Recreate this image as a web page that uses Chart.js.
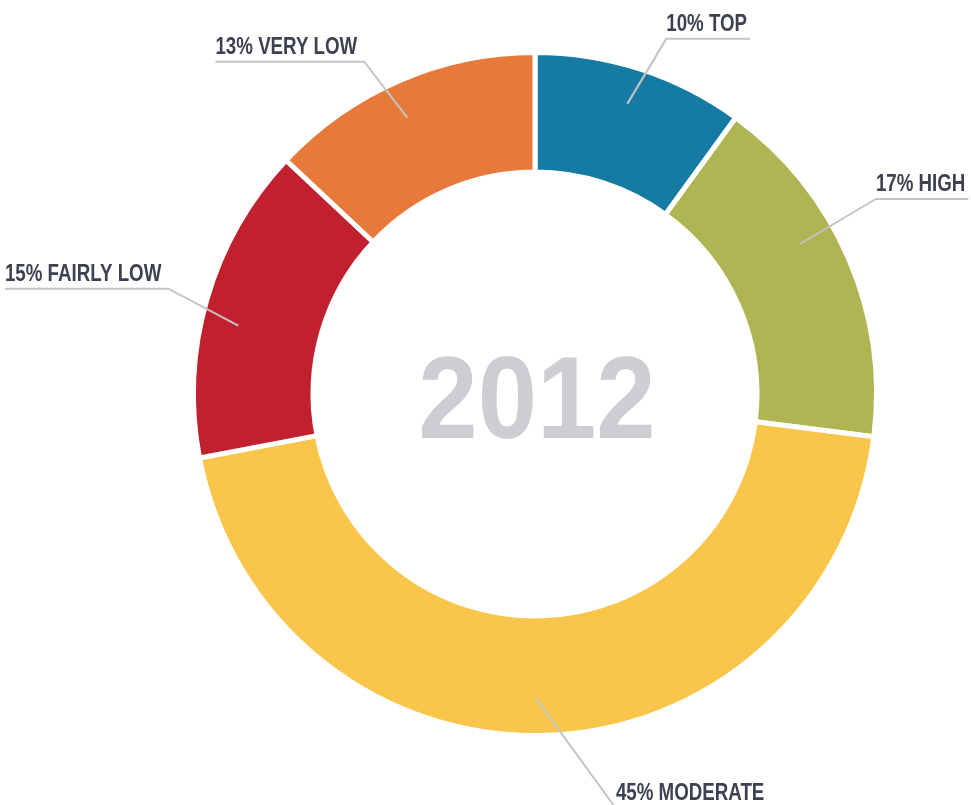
<!DOCTYPE html>
<html>
<head>
<meta charset="utf-8">
<script src="https://cdn.jsdelivr.net/npm/chart.js@4.4.0/dist/chart.umd.min.js"></script>
<style>
  html, body { margin: 0; padding: 0; background: #fff; }
  #wrap { position: relative; width: 971px; height: 805px; }
</style>
</head>
<body>
<div id="wrap"><canvas id="ratingChart"></canvas></div>
<script>
// Rating distribution, 2012
var labels = ["TOP", "HIGH", "MODERATE", "FAIRLY LOW", "VERY LOW"];
var shares = [10, 17, 45, 15, 13];
var colors = ["#167ba2", "#b0b553", "#f9c64b", "#c1212f", "#e7793b"];
var yearLabel = "2012";

// where the leader starts along each slice (0..1) and how it bends out
var anchorFrac = [0.49, 0.4, 0.51, 0.44, 0.47];
var leaderOffset = [[39, -65], [76, -45], [80, 110], [-70, -37], [-43, -56]];

var fontFamily = "'Liberation Sans', Arial, sans-serif";

// condensed look: squeeze the text horizontally
function squeezedText(ctx, text, x, y, sx) {
  ctx.save();
  ctx.translate(x, y);
  ctx.scale(sx, 1);
  ctx.fillText(text, 0, 0);
  ctx.restore();
}

var calloutPlugin = {
  id: 'callouts',
  afterDraw: function (chart) {
    var ctx = chart.ctx;
    var arcs = chart.getDatasetMeta(0).data;
    ctx.save();

    // big year in the middle
    var c = arcs[0];
    ctx.fillStyle = "#cdced2";
    ctx.font = "bold 116px " + fontFamily;
    ctx.textAlign = "center";
    ctx.textBaseline = "alphabetic";
    squeezedText(ctx, yearLabel, c.x + 2, c.y + 44, 0.92);

    var sx = 0.78;
    ctx.font = "bold 24px " + fontFamily;
    ctx.textAlign = "left";
    arcs.forEach(function (arc, i) {
      var a = arc.startAngle + (arc.endAngle - arc.startAngle) * anchorFrac[i];
      var r = arc.innerRadius + (arc.outerRadius - arc.innerRadius) * 0.69;
      var x0 = arc.x + r * Math.cos(a);
      var y0 = arc.y + r * Math.sin(a);
      var x1 = x0 + leaderOffset[i][0];
      var y1 = y0 + leaderOffset[i][1];
      var text = shares[i] + "% " + labels[i];
      var w = ctx.measureText(text).width * sx;
      var right = x1 > arc.x;
      var x2 = right ? x1 + w + 3 : x1 - w - 7;

      ctx.strokeStyle = "#c4c4c4";
      ctx.lineWidth = 2;
      ctx.beginPath();
      ctx.moveTo(x0, y0);
      ctx.lineTo(x1, y1);
      ctx.lineTo(x2, y1);
      ctx.stroke();

      ctx.fillStyle = "#3d4152";
      squeezedText(ctx, text, right ? x1 : x2, y1 - 8, sx);
    });
    ctx.restore();
  }
};

var ratingChart = new Chart(document.getElementById('ratingChart'), {
  type: 'doughnut',
  data: {
    labels: labels,
    datasets: [{
      data: shares,
      backgroundColor: colors,
      borderColor: "#ffffff",
      borderWidth: 5,
      hoverOffset: 0
    }]
  },
  options: {
    responsive: true,
    maintainAspectRatio: false,
    animation: false,
    cutout: "65%",
    layout: {
      padding: { left: 191, right: 92, top: 50, bottom: 67 }
    },
    plugins: {
      legend: { display: false },
      tooltip: { enabled: false }
    }
  },
  plugins: [calloutPlugin]
});
</script>
</body>
</html>
